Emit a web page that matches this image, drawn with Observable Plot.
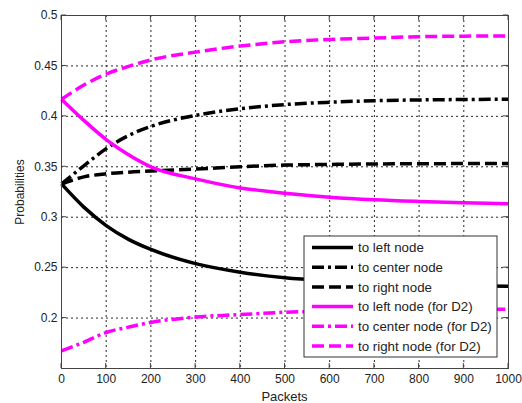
<!DOCTYPE html>
<html><head><meta charset="utf-8">
<script src="https://cdn.jsdelivr.net/npm/d3@7"></script>
<script src="https://cdn.jsdelivr.net/npm/@observablehq/plot@0.6"></script>
<style>
body{margin:0;background:#fff;}
#chart{position:relative;width:522px;height:403px;}
</style></head>
<body><div id="chart"></div>
<script>
const packets = [0, 50, 100, 150, 200, 300, 400, 500, 600, 700, 800, 900, 1000];
const leftNode   = [0.333, 0.310, 0.2917, 0.278, 0.268, 0.254, 0.2455, 0.240, 0.237, 0.235, 0.233, 0.232, 0.2315];
const centerNode = [0.333, 0.351, 0.368, 0.381, 0.390, 0.401, 0.4075, 0.4117, 0.414, 0.4155, 0.4163, 0.4167, 0.417];
const rightNode  = [0.333, 0.340, 0.343, 0.3447, 0.3458, 0.3477, 0.350, 0.3517, 0.3523, 0.3528, 0.353, 0.3532, 0.3533];
const leftD2     = [0.417, 0.396, 0.377, 0.362, 0.350, 0.338, 0.329, 0.3238, 0.3199, 0.3173, 0.3156, 0.3143, 0.3133];
const centerD2   = [0.1675, 0.176, 0.1857, 0.191, 0.1957, 0.201, 0.2035, 0.2058, 0.207, 0.2078, 0.2082, 0.2085, 0.2087];
const rightD2    = [0.417, 0.431, 0.442, 0.4495, 0.456, 0.4637, 0.4697, 0.474, 0.4763, 0.4776, 0.479, 0.4795, 0.4797];
const seriesNames = ["to left node", "to center node", "to right node", "to left node (for D2)", "to center node (for D2)", "to right node (for D2)"];
const seriesValues = [leftNode, centerNode, rightNode, leftD2, centerD2, rightD2];
const seriesColors = ["#000000", "#000000", "#000000", "#ff00ff", "#ff00ff", "#ff00ff"];
const seriesDash = ["none", "12,4,3,4", "12,5", "none", "12,4,3,4", "12,5"];
const xTicks = [0, 100, 200, 300, 400, 500, 600, 700, 800, 900, 1000];
const yTicks = [0.2, 0.25, 0.3, 0.35, 0.4, 0.45, 0.5];

const rows = [];
seriesNames.forEach((name, i) => packets.forEach((p, j) => rows.push({series: name, x: p, y: seriesValues[i][j]})));

const font = "'Liberation Sans', Arial, sans-serif";
const lineMarks = seriesNames.map((name, i) => Plot.line(rows.filter(r => r.series === name), {
  x: "x", y: "y", stroke: seriesColors[i], strokeWidth: 3.5, strokeDasharray: seriesDash[i], curve: "monotone-x", strokeLinecap: "butt"
}));

const plot = Plot.plot({
  width: 522, height: 403,
  marginLeft: 61, marginRight: 14, marginTop: 15, marginBottom: 35,
  style: {fontFamily: font, fontSize: "12px", color: "#222", background: "#fff"},
  x: {domain: [0, 1000], ticks: xTicks, label: null},
  y: {domain: [0.15, 0.5], ticks: yTicks, label: null},
  marks: [
    Plot.gridX(xTicks.filter(t => t > 0 && t < 1000), {stroke: "#000", strokeOpacity: 0.85, strokeDasharray: "2,3"}),
    Plot.gridY(yTicks.filter(t => t < 0.5), {stroke: "#000", strokeOpacity: 0.85, strokeDasharray: "2,3"}),
    ...lineMarks,
    Plot.frame({stroke: "#444", strokeWidth: 1}),
    Plot.axisX({anchor: "bottom", ticks: xTicks, tickSize: 0, tickPadding: 6, tickFormat: d => String(d), label: null, fill: "#222"}),
    Plot.axisY({anchor: "left", ticks: yTicks, tickSize: 0, tickPadding: 4, tickFormat: d => String(+d.toFixed(2)), label: "Probabilities", labelAnchor: "center", labelOffset: 46, labelArrow: "none", fill: "#222"})
  ]
});
document.getElementById("chart").appendChild(plot);

const sx = plot.scale("x"), sy = plot.scale("y");
const svg = d3.select(plot);
const [x0, x1] = sx.range, [y0, y1] = sy.range;

// x axis title
svg.append("text").attr("x", (x0 + x1) / 2).attr("y", y0 + 33).attr("text-anchor", "middle")
  .attr("font-family", font).attr("font-size", 13).attr("fill", "#222").text("Packets");

// inward ticks on all four sides, using the plot's scales
const tg = svg.append("g").attr("stroke", "#444").attr("stroke-width", 1);
xTicks.forEach(t => {
  const px = sx.apply(t);
  tg.append("line").attr("x1", px).attr("x2", px).attr("y1", y0).attr("y2", y0 - 5);
  tg.append("line").attr("x1", px).attr("x2", px).attr("y1", y1).attr("y2", y1 + 5);
});
yTicks.forEach(t => {
  const py = sy.apply(t);
  tg.append("line").attr("x1", x0).attr("x2", x0 + 5).attr("y1", py).attr("y2", py);
  tg.append("line").attr("x1", x1).attr("x2", x1 - 5).attr("y1", py).attr("y2", py);
});

// legend inside the plot, bottom-right
const lg = svg.append("g").attr("transform", `translate(${x1 - 204},${y0 - 132})`);
lg.append("rect").attr("x", 0).attr("y", 0).attr("width", 193).attr("height", 121).attr("fill", "#fff").attr("stroke", "#333").attr("stroke-width", 1);
seriesNames.forEach((name, i) => {
  const yy = 11.5 + i * 19.7;
  const ln = lg.append("line").attr("x1", 8).attr("x2", 49).attr("y1", yy).attr("y2", yy)
    .attr("stroke", seriesColors[i]).attr("stroke-width", 3.5);
  if (seriesDash[i] !== "none") ln.attr("stroke-dasharray", seriesDash[i]);
  lg.append("text").attr("x", 54).attr("y", yy).attr("dy", "0.35em").attr("text-anchor", "start")
    .attr("font-family", font).attr("font-size", 13.3).attr("fill", "#222").text(name);
});
</script></body></html>
